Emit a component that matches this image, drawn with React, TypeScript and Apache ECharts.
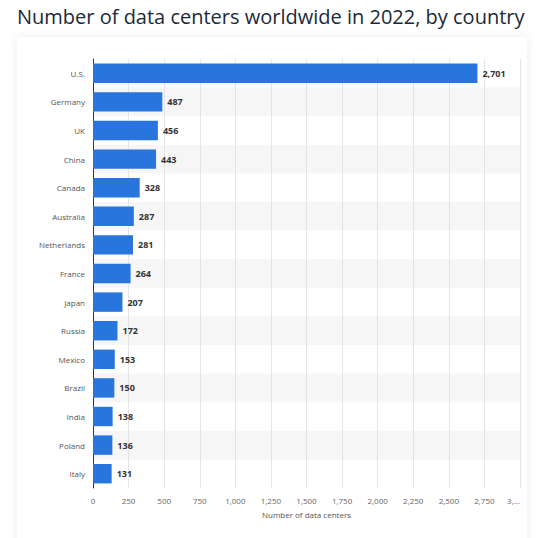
import React, { useRef, useEffect } from "react";
import * as echarts from "echarts";

const countries = [
  "U.S.",
  "Germany",
  "UK",
  "China",
  "Canada",
  "Australia",
  "Netherlands",
  "France",
  "Japan",
  "Russia",
  "Mexico",
  "Brazil",
  "India",
  "Poland",
  "Italy",
];
const dataCenters = [2701, 487, 456, 443, 328, 287, 281, 264, 207, 172, 153, 150, 138, 136, 131];

const fmt = (v: number) => v.toLocaleString("en-US");

const App = () => {
  const chartRef = useRef<HTMLDivElement>(null);

  useEffect(() => {
    const chart = echarts.init(chartRef.current, null, { renderer: "svg" });
    chart.setOption({
      animation: false,
      backgroundColor: "#ffffff",
      textStyle: { fontFamily: "Open Sans" },
      title: {
        text: "Number of data centers worldwide in 2022, by country",
        left: 12,
        top: 1,
        textStyle: { fontSize: 20, fontWeight: 500, color: "#1b2939", fontFamily: "Open Sans" },
      },
      // the white card behind the plot
      graphic: [
        {
          type: "rect",
          z: -10,
          silent: true,
          shape: { x: 17, y: 37, width: 510, height: 520 },
          style: { fill: "#ffffff", shadowBlur: 10, shadowColor: "rgba(0,0,0,0.08)" },
        },
      ],
      grid: { left: 93, right: 20, top: 59, bottom: 50 },
      xAxis: {
        type: "value",
        min: 0,
        max: 3000,
        interval: 250,
        name: "Number of data centers",
        nameLocation: "middle",
        nameGap: 22,
        nameTextStyle: { fontSize: 8, color: "#555" },
        axisLine: { show: false },
        axisTick: { show: false },
        axisLabel: {
          fontSize: 8,
          color: "#666",
          margin: 8,
          alignMaxLabel: "right",
          formatter: (v: number) => (v === 3000 ? "3,..." : fmt(v)),
        },
        splitLine: { show: true, lineStyle: { color: "#e4e4e4", width: 1 } },
      },
      yAxis: {
        type: "category",
        data: countries,
        inverse: true,
        axisLine: { show: true, lineStyle: { color: "#333", width: 1 } },
        axisTick: { show: false },
        axisLabel: { fontSize: 8, color: "#555", margin: 8 },
        splitArea: { show: true, areaStyle: { color: ["rgba(0,0,0,0)", "#f6f6f6"] } },
      },
      series: [
        {
          type: "bar",
          data: dataCenters,
          barCategoryGap: "32%",
          itemStyle: { color: "#2876dd" },
          label: {
            show: true,
            position: "right",
            distance: 5,
            fontSize: 9,
            fontWeight: "bold",
            color: "#333",
            formatter: (p: any) => fmt(p.value),
          },
        },
      ],
    });
    return () => {
      chart.dispose();
    };
  }, []);

  return (
    <div
      ref={chartRef}
      style={{ position: "fixed", left: 0, top: 0, width: 540, height: 538 }}
    />
  );
};

export default App;
